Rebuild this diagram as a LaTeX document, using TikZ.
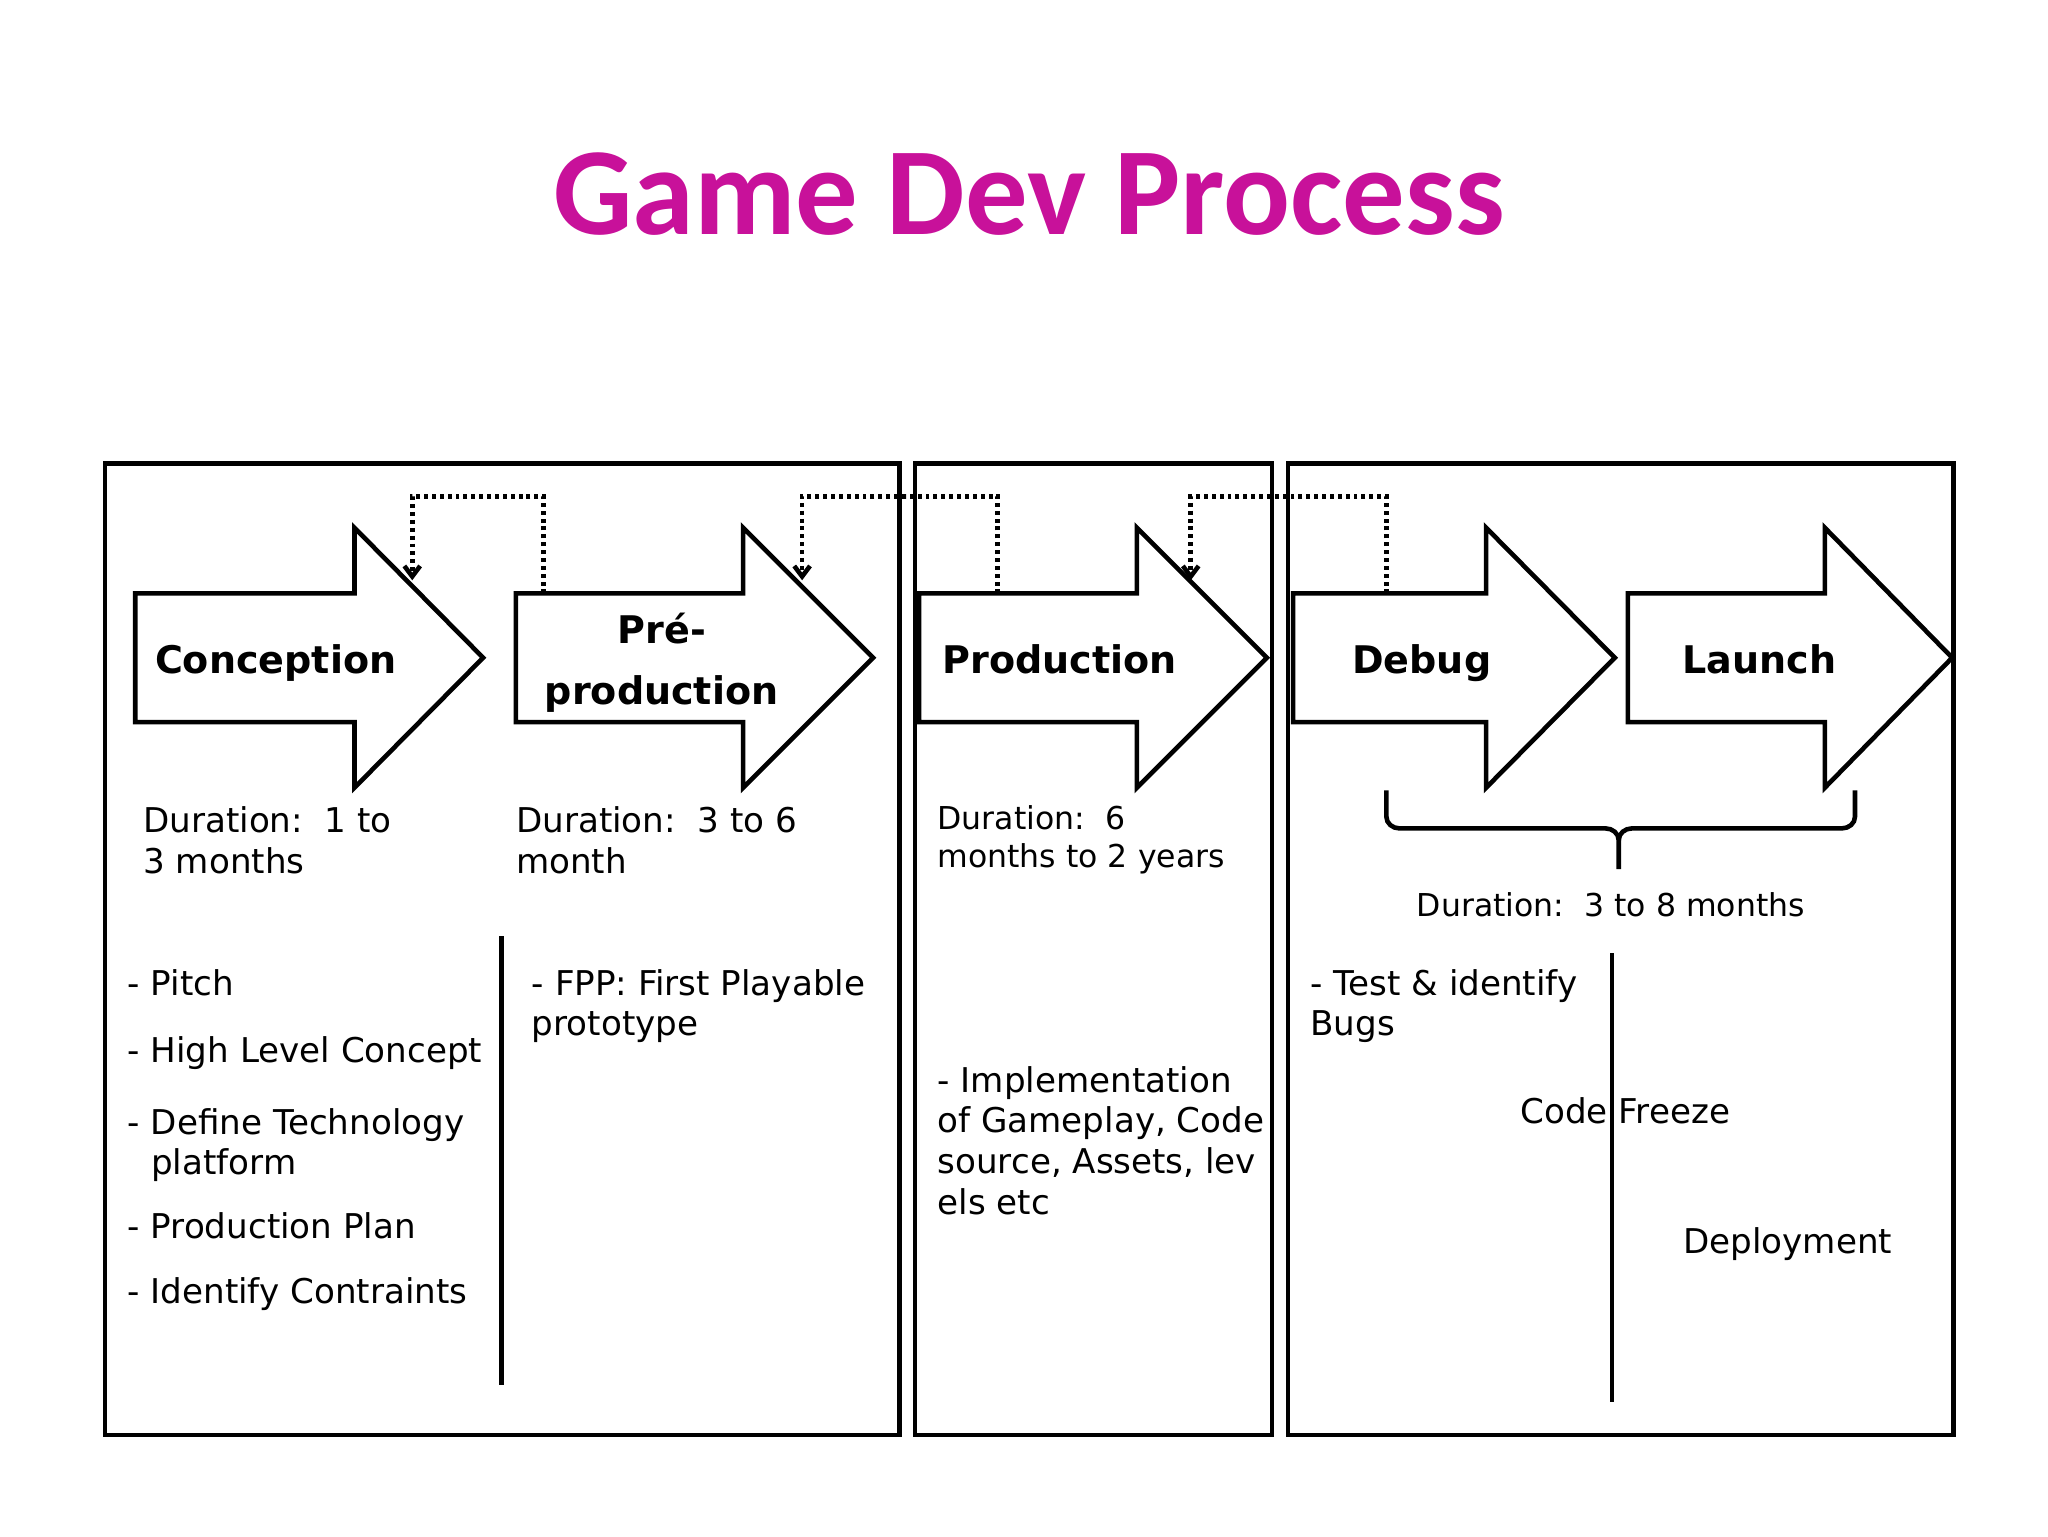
\documentclass[tikz,border=0pt]{standalone}
\usepackage{fontspec}
\setmainfont{DejaVu Sans}
\newfontfamily\titlefont{Carlito}
\usetikzlibrary{arrows.meta}
\definecolor{titlemag}{HTML}{C8119A}
\tikzset{
  frame/.style={draw,line width=3.5pt},
  bigarrow/.style={draw,line width=3.5pt,fill=white,line join=miter},
  dotline/.style={line width=3.5pt,dash pattern=on 3pt off 3pt,-{Straight Barb[length=8pt,width=12pt]}},
  body/.style={anchor=base west,inner sep=0pt,font=\fontsize{26}{31}\selectfont},
  small/.style={anchor=base west,inner sep=0pt,font=\fontsize{24}{29}\selectfont},
  alabel/.style={anchor=base,inner sep=0pt,font=\fontsize{29}{46}\selectfont\bfseries},
  vline/.style={line width=3.5pt}
}
\newcommand{\garrow}[3]{% left, headstart, tip
  \draw[bigarrow] (#1,452) -- (#2,452) -- (#2,402) -- (#3,501) -- (#2,600) -- (#2,550) -- (#1,550) -- cycle;}
\begin{document}
\begin{tikzpicture}[x=1pt,y=-1pt]
\useasboundingbox (0,0) rectangle (1560,1170);
\node[font=\titlefont\fontsize{95}{95}\selectfont\bfseries,text=titlemag] (title) at (784,148) {Game Dev Process};
\draw[frame] (80,353) rectangle (685,1093);
\draw[frame] (697,353) rectangle (969,1093);
\draw[frame] (981,353) rectangle (1488,1093);
\coordinate (a1) at (414,452); \coordinate (b1) at (314,442);
\coordinate (a2) at (760,452); \coordinate (b2) at (611,442);
\coordinate (a3) at (1056,452); \coordinate (b3) at (907,442);
\draw[dotline] (a1) |- (364,378) -| (b1);
\draw[dotline] (a2) |- (690,378) -| (b2);
\draw[dotline] (a3) |- (980,378) -| (b3);
\garrow{103}{270}{368}
\garrow{393}{566}{665}
\garrow{700}{866}{965}
\garrow{985}{1132}{1230}
\garrow{1240}{1390}{1487}
\node[alabel] (c) at (210,513) {Conception};
\node[alabel] (p1) at (504,490) {Pré-};
\node[alabel] (p2) at (504,537) {production};
\node[alabel] (pr) at (807,513) {Production};
\node[alabel] (d) at (1083,513) {Debug};
\node[alabel] (l) at (1340,513) {Launch};
\node[body] (d1a) at (109,634) {Duration:\ \ 1 to};
\node[body] (d1b) at (109,665) {3 months};
\node[body] (d2a) at (393,634) {Duration:\ \ 3 to 6};
\node[body] (d2b) at (393,665) {month};
\node[small] (d3a) at (714,632) {Duration:\ \ 6};
\node[small] (d3b) at (714,661) {months to 2 years};
\node[small] (d4) at (1079,698) {Duration:\ \ 3 to 8 months};
\node[body] (i1) at (97,758) {- Pitch};
\node[body] (i2) at (97,809) {- High Level Concept};
\node[body] (i3a) at (97,864) {- Define Technology};
\node[body] (i3b) at (115,895) {platform};
\node[body] (i4) at (97,943) {- Production Plan};
\node[body] (i5) at (97,993) {- Identify Contraints};
\node[body] (fa) at (405,758) {- FPP: First Playable};
\node[body] (fb) at (405,789) {prototype};
\node[body] (ima) at (714,832) {- Implementation};
\node[body] (imb) at (714,863) {of Gameplay, Code};
\node[body] (imc) at (714,894) {source, Assets, lev};
\node[body] (imd) at (714,925) {els etc};
\node[body] (ta) at (998,758) {- Test \& identify};
\node[body] (tb) at (998,789) {Bugs};
\node[body] (cf) at (1158,856) {Code Freeze};
\node[body] (dp) at (1282,955) {Deployment};
\draw[vline] (382,713) -- (382,1055);
\draw[vline] (1228,726) -- (1228,1068);
\draw[line width=3.5pt] (1056,602) -- (1056,622) to[out=-90,in=180] (1066,631) -- (1223,631) to[out=0,in=90] (1233,640) -- (1233,662);
\draw[line width=3.5pt] (1413,602) -- (1413,622) to[out=-90,in=0] (1403,631) -- (1243,631) to[out=180,in=90] (1233,640);
\end{tikzpicture}
\end{document}
